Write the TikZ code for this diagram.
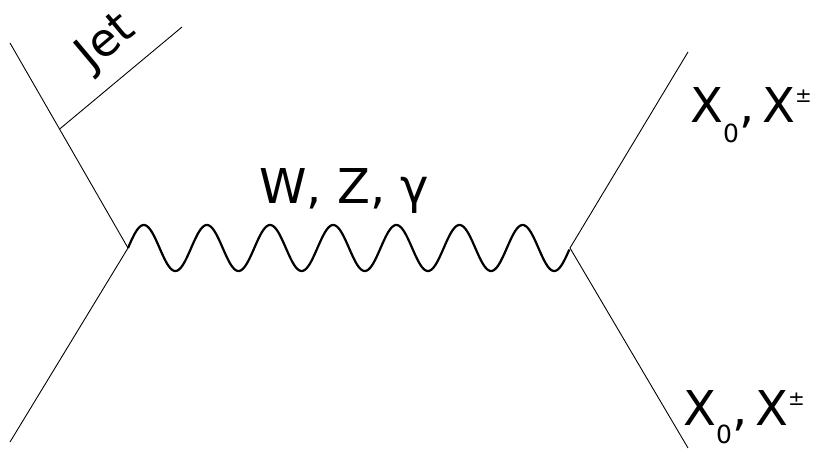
\documentclass[tikz,border=0pt]{standalone}
\usepackage{fontspec}
\newfontfamily\lbl{DejaVu Sans}
\usetikzlibrary{calc}
\begin{document}
\begin{tikzpicture}[x=1pt,y=-1pt,
  fermion/.style={line width=0.9pt},
  boson/.style={line width=2.2pt},
  biglabel/.style={font=\lbl\fontsize{48}{50}\selectfont,inner sep=0pt,anchor=base west},
]
\useasboundingbox (0,0) rectangle (818,449);
\coordinate (v1) at (128,248);
\coordinate (v2) at (570,248);
\coordinate (ul) at (10,43);
\coordinate (ll) at (10,442);
\coordinate (ur) at (688,52);
\coordinate (lr) at (688,448);
\coordinate (j0) at ($(ul)!0.42!(v1)$);
\coordinate (j1) at (182,27);
\draw[fermion] (ul) -- (v1) -- (ll);
\draw[fermion] (ur) -- (v2) -- (lr);
\draw[fermion] (j0) -- (j1);
\draw[boson] let \p1=(v1), \p2=(v2) in
  plot[variable=\t, domain=0:1, samples=400, smooth]
  ({\x1+(\x2-\x1)*\t}, {\y1+23pt*sin(7*360*\t)});
\node[biglabel] (wzg) at (259,203) {W, Z, γ};
\node[biglabel] (xtop) at (690,123) {X\raisebox{-20pt}{\fontsize{25}{25}\selectfont 0},\,X\raisebox{20pt}{\fontsize{20}{20}\selectfont ±}};
\node[biglabel] (xbot) at (683,425) {X\raisebox{-18pt}{\fontsize{25}{25}\selectfont 0},\,X\raisebox{20pt}{\fontsize{20}{20}\selectfont ±}};
\node[font=\lbl\fontsize{46}{48}\selectfont,inner sep=0pt,rotate=40] (jet) at (107,43) {Jet};
\end{tikzpicture}
\end{document}
